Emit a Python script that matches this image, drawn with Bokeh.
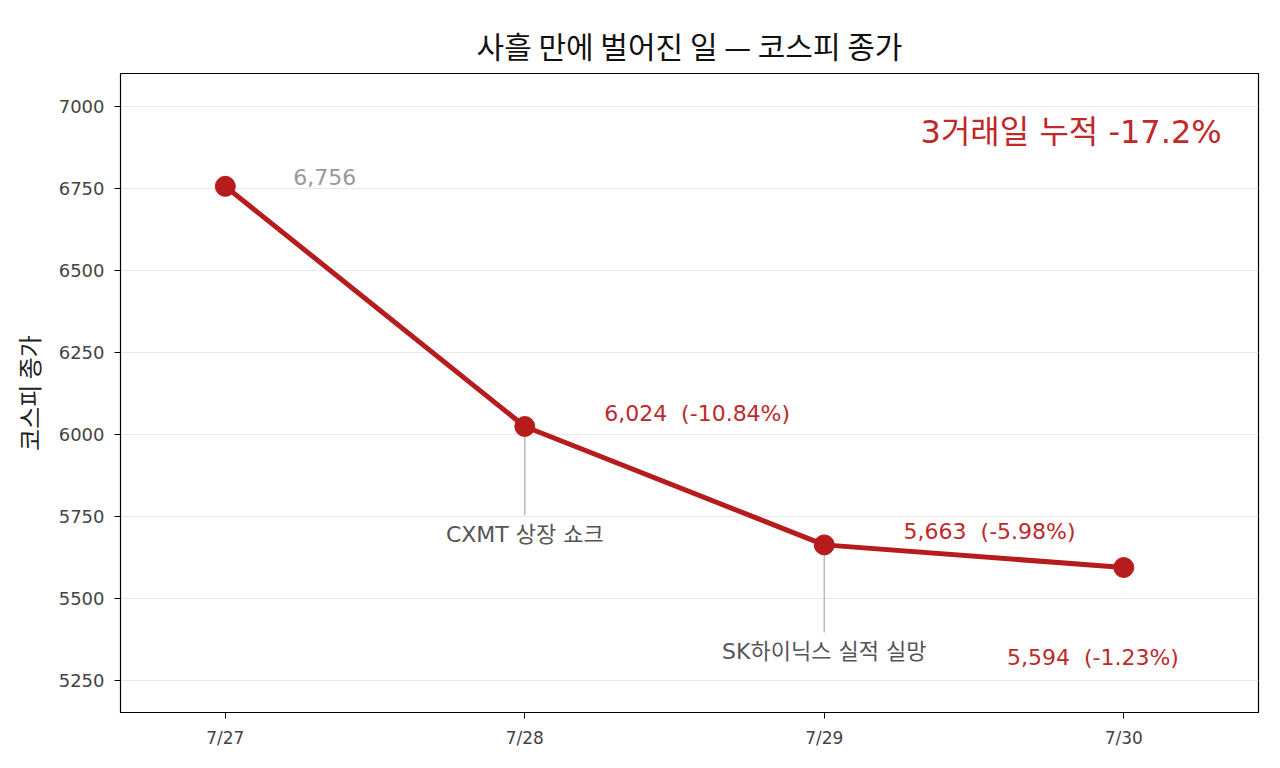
from bokeh.plotting import figure
from bokeh.models import ColumnDataSource, FixedTicker, Range1d
from bokeh.core.properties import value
from bokeh.embed import file_html
from bokeh.resources import INLINE

# KOSPI closing levels over three trading days
dates = ["7/27", "7/28", "7/29", "7/30"]
closes = [6756, 6024, 5663, 5594]
changes = [None, -10.84, -5.98, -1.23]
event_days = [1, 2]
event_texts = ["CXMT 상장 쇼크", "SK하이닉스 실적 실망"]
event_line_ends = [5753, 5396]
y_ticks = [5250, 5500, 5750, 6000, 6250, 6500, 6750, 7000]
total_change = -17.2

KR = "Noto Sans CJK KR"
MIX = "DejaVu Sans, Noto Sans CJK KR"
RED = "#b71c1c"
TEXT_RED = "#c0282a"
GAP = "\u00a0\u00a0"

xs = list(range(len(dates)))
source = ColumnDataSource(data=dict(x=xs, close=closes))

p = figure(width=1272, height=760, output_backend="svg", toolbar_location=None,
           x_range=Range1d(-0.35, 3.45), y_range=Range1d(5152, 7100),
           min_border_left=120, min_border_right=14, min_border_top=73,
           min_border_bottom=48)

p.title.text = "사흘 만에 벌어진 일 — 코스피 종가"
p.title.align = "center"
p.title.text_font = KR
p.title.text_font_size = "30px"
p.title.text_font_style = "normal"
p.title.text_color = "#111111"
p.title.standoff = 14

p.outline_line_color = "black"
p.outline_line_width = 1.2

# axes
p.xaxis.ticker = FixedTicker(ticks=xs)
p.xaxis.major_label_overrides = {i: d for i, d in enumerate(dates)}
p.yaxis.ticker = FixedTicker(ticks=y_ticks)
p.yaxis.axis_label = "코스피 종가"

p.axis.axis_line_color = "black"
p.axis.major_tick_line_color = "black"
p.axis.minor_tick_line_color = None
p.axis.major_tick_in = 0
p.axis.major_tick_out = 6
p.axis.axis_label_text_font = KR
p.axis.axis_label_text_font_size = "24px"
p.axis.axis_label_text_font_style = "normal"
p.axis.axis_label_text_color = "#222222"
p.axis.major_label_text_font = "DejaVu Sans"
p.xaxis.major_label_text_font_size = "17px"
p.yaxis.major_label_text_font_size = "18px"
p.yaxis.major_label_standoff = 10
p.xaxis.major_label_standoff = 9
p.yaxis.axis_label_standoff = 10

p.xgrid.grid_line_color = None
p.ygrid.grid_line_color = "#e8e8e8"

# event connectors and their captions
ev_x = [xs[i] for i in event_days]
ev_y = [closes[i] for i in event_days]
p.segment(x0=ev_x, y0=ev_y, x1=ev_x, y1=event_line_ends,
          line_color="#bbbbbb", line_width=1.5)
p.text(x=ev_x, y=[e - 20 for e in event_line_ends], text=event_texts,
       text_align="center", text_baseline="top", text_font=value(MIX),
       text_font_size="22px", text_color="#555555")

# the line itself
p.line("x", "close", source=source, line_color=RED, line_width=5)
p.scatter("x", "close", source=source, size=20, fill_color=RED, line_color=RED)

# value labels
p.text(x=[xs[0] + 0.227], y=[closes[0] + 30], text=[f"{closes[0]:,}"],
       text_baseline="middle", text_font=value("DejaVu Sans"),
       text_font_size="22px", text_color="#999999")
lab_dx = [0.265, 0.265, -0.39]
lab_dy = [40, 42, -274]
p.text(x=[xs[i] + dx for i, dx in zip(xs[1:], lab_dx)],
       y=[closes[i] + dy for i, dy in zip(xs[1:], lab_dy)],
       text=[f"{closes[i]:,}{GAP}({changes[i]:.2f}%)" for i in xs[1:]],
       text_baseline="middle", text_font=value("DejaVu Sans"),
       text_font_size="22px", text_color=TEXT_RED)

p.text(x=[3.327], y=[6922], text=[f"3거래일 누적 {total_change}%"],
       text_align="right", text_baseline="middle", text_font=value(MIX),
       text_font_size="32px", text_color=TEXT_RED)

open("out.html", "w").write(file_html(p, INLINE))
